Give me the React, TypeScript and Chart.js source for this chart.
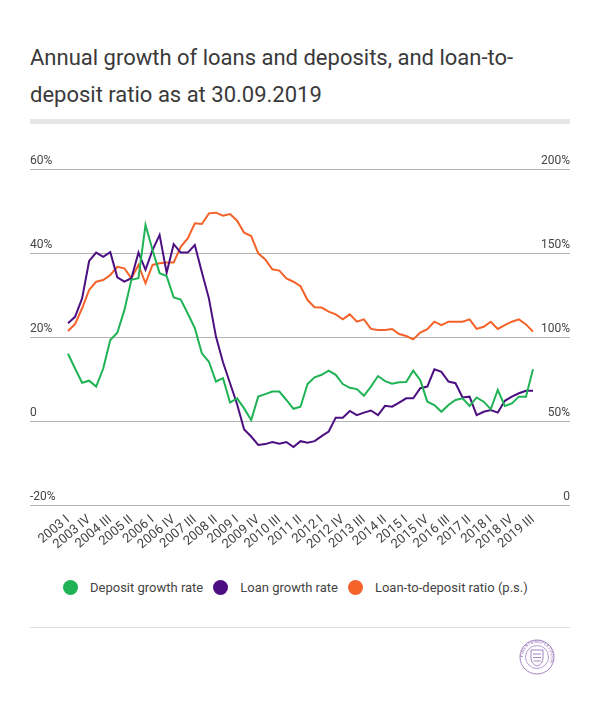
import React, { useEffect, useRef } from "react";
import { Chart, registerables } from "chart.js";

Chart.register(...registerables);

const quarters: string[] = [
  "2003 I", "2003 II", "2003 III", "2003 IV",
  "2004 I", "2004 II", "2004 III", "2004 IV",
  "2005 I", "2005 II", "2005 III", "2005 IV",
  "2006 I", "2006 II", "2006 III", "2006 IV",
  "2007 I", "2007 II", "2007 III", "2007 IV",
  "2008 I", "2008 II", "2008 III", "2008 IV",
  "2009 I", "2009 II", "2009 III", "2009 IV",
  "2010 I", "2010 II", "2010 III", "2010 IV",
  "2011 I", "2011 II", "2011 III", "2011 IV",
  "2012 I", "2012 II", "2012 III", "2012 IV",
  "2013 I", "2013 II", "2013 III", "2013 IV",
  "2014 I", "2014 II", "2014 III", "2014 IV",
  "2015 I", "2015 II", "2015 III", "2015 IV",
  "2016 I", "2016 II", "2016 III", "2016 IV",
  "2017 I", "2017 II", "2017 III", "2017 IV",
  "2018 I", "2018 II", "2018 III", "2018 IV",
  "2019 I", "2019 II", "2019 III",
];

const shownTickLabels: string[] = [
  "2003 I", "2003 IV", "2004 III", "2005 II", "2006 I", "2006 IV",
  "2007 III", "2008 II", "2009 I", "2009 IV", "2010 III", "2011 II",
  "2012 I", "2012 IV", "2013 III", "2014 II", "2015 I", "2015 IV",
  "2016 III", "2017 II", "2018 I", "2018 IV", "2019 III",
];

const depositGrowth: number[] = [
  16.0, 12.5, 9.1, 9.6, 8.2, 12.5, 19.3, 21.0, 26.4, 33.6,
  34.0, 46.7, 40.7, 35.2, 34.5, 29.4, 28.9, 25.6, 22.1, 16.1,
  14.1, 9.4, 10.2, 4.4, 5.4, 3.0, 0.2, 5.8, 6.4, 7.0,
  7.0, 5.0, 2.9, 3.4, 8.8, 10.4, 11.0, 12.0, 11.0, 8.8,
  7.9, 7.6, 6.0, 8.2, 10.7, 9.5, 8.9, 9.2, 9.3, 12.0,
  9.7, 4.6, 3.8, 2.2, 3.8, 5.0, 5.4, 3.6, 5.6, 4.6,
  2.8, 7.4, 3.6, 4.2, 5.8, 5.8, 12.3,
];

const loanGrowth: number[] = [
  23.3, 24.8, 29.2, 38.1, 40.1, 39.1, 40.2, 34.2, 33.2, 34.0,
  40.1, 36.0, 40.7, 44.3, 35.3, 42.1, 40.1, 40.1, 41.9, 35.4,
  29.2, 20.1, 14.0, 9.0, 4.0, -2.0, -3.7, -5.7, -5.5, -5.0,
  -5.4, -5.0, -6.2, -4.8, -5.2, -4.8, -3.6, -2.5, 0.8, 0.8,
  2.4, 1.4, 2.0, 2.5, 1.4, 3.6, 3.4, 4.4, 5.4, 5.4,
  7.8, 8.2, 12.3, 11.7, 9.4, 9.0, 5.6, 5.8, 1.4, 2.2,
  2.6, 2.0, 4.8, 5.8, 6.6, 7.2, 7.2,
];

const loanToDepositRatio: number[] = [
  103.6, 107.7, 117.1, 128.0, 132.9, 133.9, 136.9, 141.8, 140.9, 134.9,
  142.9, 132.0, 142.9, 143.9, 144.4, 144.4, 153.7, 158.7, 167.7, 167.3,
  173.6, 174.0, 172.2, 173.2, 169.2, 162.1, 160.1, 149.8, 146.2, 140.3,
  139.5, 134.9, 132.9, 130.2, 122.0, 117.7, 117.5, 115.1, 113.5, 110.5,
  113.5, 109.1, 110.5, 104.8, 104.2, 104.2, 104.8, 101.8, 100.6, 98.6,
  102.6, 104.6, 109.1, 107.1, 109.1, 109.1, 109.1, 110.5, 104.8, 106.1,
  109.1, 104.8, 107.1, 109.1, 110.5, 107.5, 103.2,
];

const seriesNames: string[] = [
  "Deposit growth rate",
  "Loan growth rate",
  "Loan-to-deposit ratio (p.s.)",
];
const seriesColors: string[] = ["#1fb355", "#4b0f82", "#f4622a"];

const FONT = "Roboto, 'Noto Sans', sans-serif";
const GRID = "#b4b4b4";
const TEXT = "#444444";

export default function App() {
  const canvasRef = useRef<HTMLCanvasElement | null>(null);

  useEffect(() => {
    if (!canvasRef.current) return;
    const chart = new Chart(canvasRef.current, {
      type: "line",
      data: {
        labels: quarters,
        datasets: [
          {
            label: seriesNames[0],
            data: depositGrowth,
            borderColor: seriesColors[0],
            backgroundColor: seriesColors[0],
            borderWidth: 2,
            pointRadius: 0,
            yAxisID: "y",
          },
          {
            label: seriesNames[1],
            data: loanGrowth,
            borderColor: seriesColors[1],
            backgroundColor: seriesColors[1],
            borderWidth: 2,
            pointRadius: 0,
            yAxisID: "y",
          },
          {
            label: seriesNames[2],
            data: loanToDepositRatio,
            borderColor: seriesColors[2],
            backgroundColor: seriesColors[2],
            borderWidth: 2,
            pointRadius: 0,
            yAxisID: "y1",
          },
        ],
      },
      options: {
        animation: false,
        responsive: false,
        maintainAspectRatio: false,
        layout: { padding: { left: 22, right: 22, top: 29, bottom: 0 } },
        plugins: {
          legend: { display: false },
          tooltip: { enabled: false },
        },
        scales: {
          x: {
            type: "category",
            grid: { display: false, drawTicks: false },
            border: { display: false },
            ticks: {
              autoSkip: false,
              minRotation: 40,
              maxRotation: 40,
              padding: 7,
              color: TEXT,
              font: { family: FONT, size: 13 },
              callback: function (this: any, value: any) {
                const lbl = this.getLabelForValue(value);
                return shownTickLabels.includes(lbl) ? lbl : "";
              },
            },
            afterFit: (s: any) => {
              s.height = 50;
              s.paddingLeft = 0;
              s.paddingRight = 0;
            },
          },
          y: {
            position: "left",
            min: -20,
            max: 60,
            grid: {
              color: GRID,
              lineWidth: 1,
              drawTicks: true,
              tickLength: 38,
              tickColor: GRID,
            },
            border: { display: false },
            ticks: {
              stepSize: 20,
              crossAlign: "far",
              labelOffset: -8,
              padding: 0,
              color: TEXT,
              font: { family: FONT, size: 12 },
              callback: (v: any) => (v === 0 ? "0" : `${v}%`),
            },
            afterFit: (s: any) => {
              s.width = 38;
              s.paddingTop = 0;
              s.paddingBottom = 0;
            },
          },
          y1: {
            position: "right",
            min: 0,
            max: 200,
            grid: {
              drawOnChartArea: false,
              color: GRID,
              lineWidth: 1,
              drawTicks: true,
              tickLength: 37,
              tickColor: GRID,
            },
            border: { display: false },
            ticks: {
              stepSize: 50,
              crossAlign: "far",
              labelOffset: -8,
              padding: 0,
              color: TEXT,
              font: { family: FONT, size: 12 },
              callback: (v: any) => (v === 0 ? "0" : `${v}%`),
            },
            afterFit: (s: any) => {
              s.width = 37;
              s.paddingTop = 0;
              s.paddingBottom = 0;
            },
          },
        },
      },
    } as any);
    return () => chart.destroy();
  }, []);

  const legendItem = (i: number) => (
    <div key={i} style={{ display: "flex", alignItems: "center", marginRight: 10 }}>
      <span
        style={{
          display: "inline-block",
          width: 15,
          height: 15,
          borderRadius: "50%",
          background: seriesColors[i],
          marginRight: 12,
        }}
      />
      <span style={{ fontSize: 13, color: TEXT, whiteSpace: "nowrap" }}>{seriesNames[i]}</span>
    </div>
  );

  return (
    <div style={{ position: "relative", width: 584, height: 700, fontFamily: FONT }}>
      <div
        style={{
          position: "absolute",
          left: 22,
          top: 31,
          fontSize: 22,
          lineHeight: "37px",
          color: "#3a3a3a",
          fontWeight: 400,
          whiteSpace: "nowrap",
        }}
      >
        Annual growth of loans and deposits, and loan-to-
        <br />
        deposit ratio as at 30.09.2019
      </div>
      <div
        style={{
          position: "absolute",
          left: 22,
          top: 111,
          width: 540,
          height: 5,
          background: "#e6e6e6",
        }}
      />
      <canvas
        ref={canvasRef}
        width={584}
        height={415}
        style={{ position: "absolute", left: 0, top: 132, width: 584, height: 415 }}
      />
      <div
        style={{
          position: "absolute",
          left: 55,
          top: 571,
          display: "flex",
          alignItems: "center",
          height: 16,
        }}
      >
        {[0, 1, 2].map(legendItem)}
      </div>
      <div
        style={{
          position: "absolute",
          left: 22,
          top: 619,
          width: 540,
          height: 1,
          background: "#dddddd",
        }}
      />
      <svg
        width={40}
        height={40}
        viewBox="0 0 40 40"
        style={{ position: "absolute", left: 509, top: 629 }}
      >
        <defs>
          <path id="ring" d="M 20 20 m -14 0 a 14 14 0 1 1 28 0 a 14 14 0 1 1 -28 0" />
        </defs>
        <circle cx={20} cy={20} r={17} fill="none" stroke="#a184c4" strokeWidth={1} />
        <circle cx={20} cy={20} r={11.5} fill="none" stroke="#a184c4" strokeWidth={0.8} />
        <text fontSize={4} fill="#8a66b4" letterSpacing={0.3}>
          <textPath href="#ring">FINANTSINSPEKTSIOON</textPath>
        </text>
        <path
          d="M 14 13 L 26 13 L 26 21 Q 26 27 20 29 Q 14 27 14 21 Z"
          fill="none"
          stroke="#8a66b4"
          strokeWidth={0.8}
        />
        <path d="M 16 17 L 24 17 M 16 20.5 L 24 20.5 M 16.5 24 L 23.5 24" stroke="#a184c4" strokeWidth={1.2} />
      </svg>
    </div>
  );
}
